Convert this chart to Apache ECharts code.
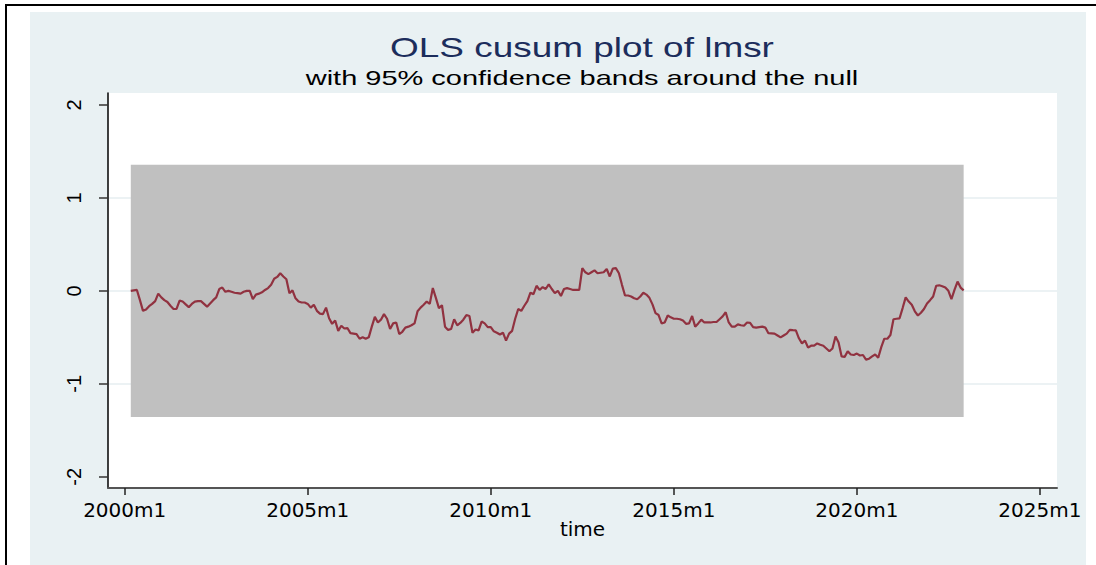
<!DOCTYPE html>
<html>
<head>
<meta charset="utf-8">
<script src="https://cdn.jsdelivr.net/npm/echarts@6/dist/echarts.min.js"></script>
<style>
  html, body { margin: 0; padding: 0; background: #ffffff; }
  #wrap { position: relative; width: 1096px; height: 565px; overflow: hidden; background: #ffffff; }
  #frame { position: absolute; left: 5px; top: 4px; width: 1100px; height: 600px; border-left: 2px solid #000; border-top: 2px solid #000; }
  #panel { position: absolute; left: 30px; top: 12px; width: 1056px; height: 553px; background: #e9f1f3; }
  #chart { position: absolute; left: 0; top: 0; width: 1096px; height: 565px; }
</style>
</head>
<body>
<div id="wrap">
  <div id="frame"></div>
  <div id="panel"></div>
  <div id="chart"></div>
</div>
<script>
// ---- data ----
const titleText = 'OLS cusum plot of lmsr';
const subtitleText = 'with 95% confidence bands around the null';
const xAxisName = 'time';
// month offsets from 2000m1 for x tick labels
const xTickValues = [0, 60, 120, 180, 240, 300];
const xTickLabels = ['2000m1', '2005m1', '2010m1', '2015m1', '2020m1', '2025m1'];
const yTickValues = [-2, -1, 0, 1, 2];
// first observation: 2000m3 (offset 2 months from 2000m1)
const firstOffset = 2;
// 95% confidence band half-width around the null
const bandHalfWidth = 1.358;
// OLS cusum values, monthly 2000m3 .. 2022m12
const cusum = [
  0.0, 0.005, 0.01, -0.1, -0.215, -0.2, -0.165, -0.14, -0.11, -0.03,
  -0.07, -0.1, -0.12, -0.16, -0.195, -0.195, -0.105, -0.115, -0.145, -0.175,
  -0.14, -0.115, -0.11, -0.11, -0.14, -0.17, -0.135, -0.1, -0.07, 0.02,
  0.035, -0.01, 0.0, -0.01, -0.02, -0.025, -0.03, -0.01, 0.0, 0.0,
  -0.09, -0.04, -0.03, -0.015, 0.01, 0.03, 0.065, 0.13, 0.15, 0.19,
  0.155, 0.125, -0.025, 0.005, -0.08, -0.115, -0.125, -0.125, -0.14, -0.18,
  -0.15, -0.215, -0.245, -0.25, -0.18, -0.295, -0.355, -0.32, -0.43, -0.375,
  -0.405, -0.4, -0.455, -0.46, -0.465, -0.515, -0.5, -0.515, -0.5, -0.385,
  -0.28, -0.34, -0.31, -0.25, -0.3, -0.41, -0.35, -0.34, -0.465, -0.44,
  -0.395, -0.385, -0.37, -0.35, -0.22, -0.18, -0.15, -0.115, -0.14, 0.03,
  -0.075, -0.185, -0.155, -0.385, -0.42, -0.41, -0.305, -0.37, -0.345, -0.31,
  -0.26, -0.27, -0.45, -0.415, -0.425, -0.33, -0.35, -0.39, -0.39, -0.435,
  -0.45, -0.47, -0.45, -0.535, -0.46, -0.43, -0.3, -0.195, -0.215, -0.16,
  -0.11, -0.02, -0.035, 0.055, 0.01, 0.04, 0.02, 0.07, 0.02, -0.025,
  0.0, -0.055, 0.02, 0.03, 0.02, 0.01, 0.01, 0.01, 0.245, 0.2,
  0.18, 0.2, 0.22, 0.19, 0.195, 0.2, 0.235, 0.155, 0.24, 0.245,
  0.19, 0.065, -0.05, -0.05, -0.06, -0.08, -0.09, -0.06, -0.02, -0.04,
  -0.075, -0.145, -0.24, -0.26, -0.35, -0.34, -0.265, -0.285, -0.3, -0.3,
  -0.305, -0.32, -0.355, -0.35, -0.27, -0.385, -0.35, -0.31, -0.34, -0.34,
  -0.34, -0.335, -0.335, -0.305, -0.275, -0.23, -0.34, -0.385, -0.385, -0.36,
  -0.37, -0.375, -0.34, -0.345, -0.39, -0.395, -0.39, -0.385, -0.395, -0.455,
  -0.457, -0.46, -0.48, -0.5, -0.48, -0.46, -0.42, -0.423, -0.425, -0.51,
  -0.565, -0.535, -0.61, -0.59, -0.59, -0.565, -0.58, -0.59, -0.62, -0.65,
  -0.62, -0.49, -0.555, -0.705, -0.71, -0.65, -0.685, -0.69, -0.675, -0.695,
  -0.69, -0.74, -0.73, -0.705, -0.685, -0.72, -0.605, -0.515, -0.515, -0.475,
  -0.305, -0.3, -0.295, -0.185, -0.07, -0.115, -0.15, -0.22, -0.265, -0.235,
  -0.195, -0.135, -0.1, -0.06, 0.055, 0.06, 0.05, 0.035, 0.0, -0.09,
  0.01, 0.1, 0.035, 0.005
];

// ---- chart ----
const seriesData = cusum.map((v, i) => [firstOffset + i, v]);
const lastOffset = firstOffset + cusum.length - 1;
const FONT = '"Liberation Sans", Arial, sans-serif';
const WFONT = '"DejaVu Sans", "Liberation Sans", sans-serif';

const chart = echarts.init(document.getElementById('chart'), null, { renderer: 'svg' });
chart.setOption({
  animation: false,
  backgroundColor: 'transparent',
  graphic: [
    {
      type: 'text', x: 582, y: 47, scaleX: 1.32, silent: true,
      style: {
        text: titleText, font: 'normal 28px ' + FONT, fill: '#1c2d5c',
        align: 'center', verticalAlign: 'middle', textAlign: 'center', textVerticalAlign: 'middle'
      }
    },
    {
      type: 'text', x: 582, y: 78, scaleX: 1.45, silent: true,
      style: {
        text: subtitleText, font: 'normal 20px ' + FONT, fill: '#000000',
        align: 'center', verticalAlign: 'middle', textAlign: 'center', textVerticalAlign: 'middle'
      }
    }
  ],
  grid: {
    left: 108, top: 93, width: 949, height: 395,
    show: true, backgroundColor: '#ffffff', borderWidth: 0,
    containLabel: false
  },
  xAxis: {
    type: 'value',
    min: -5.47, max: 305.6,
    name: xAxisName,
    nameLocation: 'middle',
    nameGap: 31,
    nameMoveOverlap: false,
    nameTextStyle: { fontFamily: WFONT, fontSize: 20, color: '#000' },
    axisLine: { show: true, onZero: false, lineStyle: { color: '#555', width: 2 } },
    axisTick: { show: true, length: 7, customValues: xTickValues, lineStyle: { color: '#222', width: 1.5 } },
    axisLabel: {
      customValues: xTickValues,
      margin: 12,
      fontFamily: WFONT, fontSize: 20, color: '#000',
      formatter: (v) => xTickLabels[xTickValues.indexOf(Math.round(v))] || ''
    },
    splitLine: { show: false }
  },
  yAxis: {
    type: 'value',
    min: -2.121, max: 2.129,
    axisLine: { show: true, onZero: false, lineStyle: { color: '#000', width: 1.5 } },
    axisTick: { show: true, length: 9, customValues: yTickValues, lineStyle: { color: '#333', width: 1.5 } },
    axisLabel: {
      customValues: yTickValues,
      rotate: 90,
      margin: 24,
      fontFamily: FONT, fontSize: 20, color: '#000',
      formatter: (v) => String(Math.round(v))
    },
    splitLine: {
      show: true,
      lineStyle: { color: ['rgba(0,0,0,0)', '#e6eef1', '#e6eef1', '#e6eef1', 'rgba(0,0,0,0)'], width: 1.5 }
    }
  },
  series: [{
    type: 'line',
    data: seriesData,
    showSymbol: false,
    symbol: 'none',
    lineStyle: { color: '#913240', width: 2.2 },
    markArea: {
      silent: true,
      itemStyle: { color: '#c0c0c0' },
      data: [[{ xAxis: firstOffset, yAxis: -bandHalfWidth }, { xAxis: lastOffset, yAxis: bandHalfWidth }]]
    }
  }]
});
</script>
</body>
</html>
